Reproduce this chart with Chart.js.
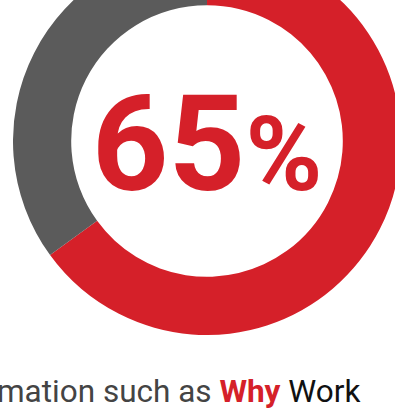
<!DOCTYPE html>
<html>
<head>
<meta charset="utf-8">
<script src="https://cdn.jsdelivr.net/npm/chart.js"></script>
<style>
  html, body { margin: 0; padding: 0; background: #fff; overflow: hidden; width: 395px; height: 410px; }
  #ring { position: absolute; left: 13px; top: -53px; }
  .caption {
    position: absolute; left: -3px; top: 376px; margin: 0;
    font-family: Roboto, sans-serif; font-size: 31.5px; line-height: 1;
    color: #444; white-space: nowrap;
  }
  .caption b { color: #d52029; font-weight: 700; }
  .caption span { color: #111; }
</style>
</head>
<body>

<canvas id="ring" width="388" height="388"></canvas>
<p class="caption">mation such as <b>Why</b> <span>Work</span></p>

<script>
  // dữ liệu vòng tròn
  const labels = ['Có', 'Không'];
  const values = [65, 35];
  const colors = ['#d52029', '#5b5b5b'];

  // chữ % ở giữa vòng, lấy từ giá trị đầu tiên
  const centerText = {
    id: 'centerText',
    afterDraw(chart) {
      const arc = chart.getDatasetMeta(0).data[0];
      const ctx = chart.ctx;
      const num = String(values[0]);
      ctx.save();
      ctx.fillStyle = colors[0];
      ctx.textBaseline = 'alphabetic';
      ctx.font = 'bold 134px Roboto';
      const w1 = ctx.measureText(num).width;
      ctx.font = 'bold 104px Roboto';
      const w2 = ctx.measureText('%').width;
      let x = arc.x - (w1 + w2) / 2;
      const y = arc.y + 49;
      ctx.font = 'bold 134px Roboto';
      ctx.fillText(num, x, y);
      ctx.font = 'bold 104px Roboto';
      ctx.fillText('%', x + w1, y);
      ctx.restore();
    }
  };

  new Chart(document.getElementById('ring'), {
    type: 'doughnut',
    data: {
      labels: labels,
      datasets: [{
        data: values,
        backgroundColor: colors,
        borderWidth: 0,
        hoverOffset: 0
      }]
    },
    options: {
      responsive: false,
      animation: false,
      devicePixelRatio: 1,
      cutout: '70%',
      plugins: { legend: { display: false }, tooltip: { enabled: false } }
    },
    plugins: [centerText]
  });
</script>
</body>
</html>
